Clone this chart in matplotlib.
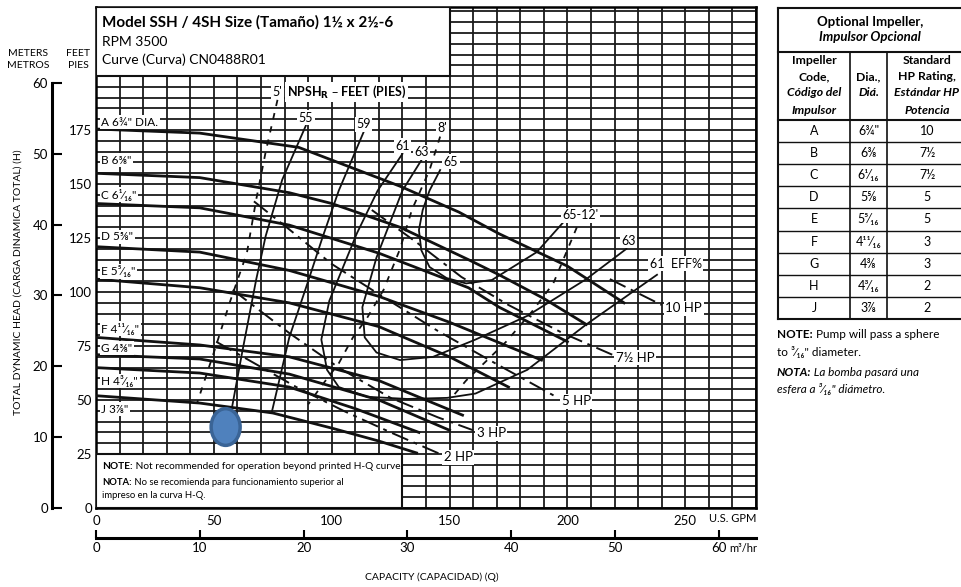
import numpy as np
import matplotlib
matplotlib.use("Agg")
import matplotlib.pyplot as plt
from matplotlib.patches import Rectangle, Ellipse

plt.rcParams['font.family'] = ['Lato', 'DejaVu Sans']

# --- impeller head curves, capacity in US GPM, total head in feet ---
head_a_q = [0, 44, 86, 129, 154, 171, 200, 224]
head_a_h = [175.5, 173.6, 167, 149, 137, 127, 112, 95]
head_b_q = [0, 44, 82, 100, 129, 158, 171, 190, 208]
head_b_h = [155, 153, 146, 141, 130, 115, 108, 97, 85]
head_c_q = [0, 44, 82, 120, 158, 171, 200]
head_c_h = [141, 139, 131, 118, 102, 93, 77]
head_d_q = [0, 44, 82, 120, 150, 189]
head_d_h = [121, 118.5, 110, 98, 86, 68.5]
head_e_q = [0, 44, 82, 120, 150, 175]
head_e_h = [106, 102, 95, 84, 70, 56]
head_f_q = [0, 44, 82, 120, 155.5]
head_f_h = [79, 75.5, 70, 59, 43]
head_g_q = [0, 44, 82, 120, 150]
head_g_h = [71, 69, 62, 50, 36]
head_h_q = [0, 44, 82, 110, 137]
head_h_h = [65, 62.5, 56, 46, 35]
head_j_q = [0, 44, 75, 100, 120, 136]
head_j_h = [52, 48.6, 44, 37, 31, 25.5]

# --- efficiency curves (%) ---
eff_55_q = [89, 79, 72, 68, 62, 57.6]
eff_55_h = [177, 152, 126, 106, 72, 46]
eff_59_q = [113.5, 103, 96, 90, 82, 74.5]
eff_59_h = [174, 147, 125, 105, 79, 44]
eff_61_q = [130, 119.5, 110.6, 99, 95.6, 98, 103, 115, 132, 149, 161, 183, 208, 238]
eff_61_h = [164, 147, 127, 96, 78, 64, 56, 51.5, 50.5, 51, 53, 64, 85, 108]
eff_63_q = [138, 130, 119, 113, 114, 119, 129, 143, 161, 183, 208, 225]
eff_63_h = [161, 147, 116, 93, 79, 72, 68.5, 70, 78, 89, 106, 120]
eff_65_q = [146, 141.5, 138.6, 137, 138, 141.5, 148.7, 157, 168, 187, 198]
eff_65_h = [156.5, 147, 138, 128.7, 119.4, 111.6, 106.5, 104, 105.6, 118.5, 132]

# --- NPSHr lines (feet) ---
npsh_5_q = [77, 72, 68, 64, 57, 50, 43]
npsh_5_h = [189, 165, 143, 118, 96, 72, 49]
npsh_8_q = [146, 141.5, 134, 129, 122, 115, 109, 103, 96, 90]
npsh_8_h = [172, 156.5, 138, 120, 101, 88, 79, 67, 57, 48]
npsh_12_q = [204, 194, 185, 174, 166, 157, 150]
npsh_12_h = [130, 104, 91, 77, 68.5, 59, 50]

# --- power lines (HP) ---
hp_10_q = [218, 240]
hp_10_h = [106, 94]
hp_75_q = [117, 136, 155, 175, 198, 219]
hp_75_h = [138, 123, 107, 94, 81, 71]
hp_5_q = [67, 82, 100, 120, 145, 171, 196]
hp_5_h = [142, 129, 113, 99, 82, 66, 51]
hp_3_q = [58, 82, 103, 125, 145, 160]
hp_3_h = [101, 81, 65, 51, 42, 36]
hp_2_q = [51, 64, 85, 105, 125, 146]
hp_2_h = [77, 69, 56, 45, 35, 25]

# marked operating point
op_q, op_h = 55, 37.5

# impeller table
imp_codes = ['A', 'B', 'C', 'D', 'E', 'F', 'G', 'H', 'J']
imp_dia = ['6¾', '6⅜', '6¹⁄₁₆', '5⅝', '5⁵⁄₁₆', '4¹¹⁄₁₆', '4⅜', '4³⁄₁₆', '3⅞']
imp_hp = ['10', '7½', '7½', '5', '5', '3', '3', '2', '2']

gpm_ticks = [0, 50, 100, 150, 200, 250]
ft_ticks = [0, 25, 50, 75, 100, 125, 150, 175]
m_ticks = [0, 10, 20, 30, 40, 50, 60]
m3h_ticks = [0, 10, 20, 30, 40, 50, 60]

W, H = 961, 587
INK = '#111111'


def box(x0, y0, x1, y1):
    return [x0 / W, 1 - y1 / H, (x1 - x0) / W, (y1 - y0) / H]


fig = plt.figure(figsize=(W / 100, H / 100), dpi=100)
ax = fig.add_axes(box(96, 7, 756, 508))
ax.set_xlim(0, 280)
ax.set_ylim(0, 232)
ax.set_xticks(gpm_ticks)
ax.set_xticks(np.arange(0, 281, 10), minor=True)
ax.set_yticks(ft_ticks)
ax.set_yticks(np.arange(0, 231, 5), minor=True)
ax.set_axisbelow(True)
ax.grid(which='both', color='#1a1a1a', lw=1.3)
ax.tick_params(which='both', length=0)
ax.tick_params(axis='x', pad=5, labelsize=9.5)
ax.tick_params(axis='y', pad=3, labelsize=9.5)
for s in ax.spines.values():
    s.set_linewidth(1.8)

lab = dict(fc='white', ec='none', boxstyle='square,pad=0.12')

# head curves
heads = [(head_a_q, head_a_h), (head_b_q, head_b_h), (head_c_q, head_c_h),
         (head_d_q, head_d_h), (head_e_q, head_e_h), (head_f_q, head_f_h),
         (head_g_q, head_g_h), (head_h_q, head_h_h), (head_j_q, head_j_h)]
label_ft = [178.7, 161, 145, 125.5, 109.7, 83, 74, 58.8, 45.8]
for (q, h), code, dia, ly in zip(heads, imp_codes, imp_dia, label_ft):
    ax.plot(q, h, color=INK, lw=2.0, zorder=3)
    txt = f'{code} {dia}"' + (' DIA.' if code == 'A' else '')
    ax.text(2.3, ly, txt, fontsize=8.5, va='center', ha='left', bbox=lab, zorder=6)

# efficiency curves
effs = [('55', eff_55_q, eff_55_h), ('59', eff_59_q, eff_59_h), ('61', eff_61_q, eff_61_h),
        ('63', eff_63_q, eff_63_h), ('65', eff_65_q, eff_65_h)]
for name, q, h in effs:
    ax.plot(q, h, color=INK, lw=1.3, zorder=3)
    ax.text(q[0] + (1.5 if name == '65' else 0), h[0] + 1, name, fontsize=9,
            ha='left' if name == '65' else 'center', va='bottom', bbox=lab, zorder=6)
ax.text(eff_61_q[-1] - 3, eff_61_h[-1] + 5, '61  EFF%', fontsize=9, ha='left', va='center',
        bbox=lab, zorder=6)
ax.text(eff_63_q[-1] + 1, eff_63_h[-1] + 1, '63', fontsize=9, ha='center', va='bottom',
        bbox=lab, zorder=6)
ax.text(eff_65_q[-1], eff_65_h[-1] + 3.5, "65-12'", fontsize=9, ha='left', va='center',
        bbox=lab, zorder=6)

# NPSH lines
for q, h in [(npsh_5_q, npsh_5_h), (npsh_8_q, npsh_8_h), (npsh_12_q, npsh_12_h)]:
    ax.plot(q, h, color=INK, lw=1.3, ls=(0, (3.5, 4)), zorder=3)
ax.text(npsh_5_q[0], npsh_5_h[0] + 1, "5'", fontsize=9, ha='center', va='bottom', bbox=lab, zorder=6)
ax.text(npsh_8_q[0] + 1, npsh_8_h[0] + 1, "8'", fontsize=9, ha='center', va='bottom', bbox=lab, zorder=6)
ax.text(npsh_5_q[0] + 4, npsh_5_h[0] + 3.6, r"NPSH$_\mathbf{R}$ – FEET (PIES)", fontsize=9,
        weight='bold', ha='left', va='center', bbox=lab, zorder=6)

# power lines
hps = [('10 HP', hp_10_q, hp_10_h), ('7½ HP', hp_75_q, hp_75_h), ('5 HP', hp_5_q, hp_5_h),
       ('3 HP', hp_3_q, hp_3_h), ('2 HP', hp_2_q, hp_2_h)]
for name, q, h in hps:
    ax.plot(q, h, color=INK, lw=1.4, ls=(0, (9, 3, 2, 3)), zorder=3)
    ax.text(q[-1] + 1.5, h[-1] - 1.5, name, fontsize=9.5, ha='left', va='center', bbox=lab, zorder=6)

# header and note boxes
ax.add_patch(Rectangle((0, 200), 150, 32, fc='white', ec=INK, lw=1.5, zorder=5))
ax.text(2.5, 225, 'Model SSH / 4SH Size (Tamaño) 1½ x 2½-6', fontsize=11, weight='bold',
        va='center', zorder=7)
ax.text(2.5, 216, 'RPM 3500', fontsize=10, va='center', zorder=7)
ax.text(2.5, 207.4, 'Curve (Curva) CN0488R01', fontsize=10, va='center', zorder=7)

ax.add_patch(Rectangle((0, 0), 130, 25, fc='white', ec=INK, lw=1.5, zorder=5))


def two_part(axis, x, y, first, rest, size, style='normal', z=7):
    t = axis.text(x, y, first, fontsize=size, weight='bold', style=style,
                  ha='left', va='center', zorder=z)
    axis.annotate(rest, xy=(1, 0), xycoords=t, ha='left', va='bottom', fontsize=size,
                  style=style, zorder=z)


two_part(ax, 2.5, 19, 'NOTE:', ' Not recommended for operation beyond printed H-Q curve.', 7.3)
two_part(ax, 2.5, 11.6, 'NOTA:', ' No se recomienda para funcionamiento superior al', 6.8)
ax.text(2.5, 5.6, 'impreso en la curva H-Q.', fontsize=6.8, va='center', zorder=7)

ax.add_patch(Ellipse((op_q, op_h), 12.3, 17, fc='#4F81BD', ec='#3A6496', lw=2.5, zorder=8))

# meters axis
axm = fig.add_axes(box(52, 7, 60, 508))
axm.set_ylim(0, 232 / 3.28084)
axm.patch.set_visible(False)
for k in ['top', 'right', 'bottom']:
    axm.spines[k].set_visible(False)
axm.spines['left'].set_bounds(0, 60)
axm.spines['left'].set_linewidth(2.2)
axm.set_xticks([])
axm.set_yticks(m_ticks)
axm.tick_params(axis='y', direction='in', length=7, width=1.5, labelsize=9.5, pad=3)

# m3/hr axis
axq = fig.add_axes(box(96, 530, 756, 538))
axq.set_xlim(0, 280 / 4.402868)
axq.patch.set_visible(False)
for k in ['top', 'right', 'left']:
    axq.spines[k].set_visible(False)
axq.spines['bottom'].set_linewidth(2.2)
axq.set_yticks([])
axq.set_xticks(m3h_ticks)
axq.tick_params(axis='x', direction='in', length=6, width=1.5, labelsize=9.5, pad=3)

# overlay in pixel units for the outer texts and the table
ov = fig.add_axes([0, 0, 1, 1])
ov.set_xlim(0, W)
ov.set_ylim(H, 0)
ov.axis('off')

ov.text(28, 53, 'METERS', fontsize=7.5, ha='center', va='center')
ov.text(28, 66, 'METROS', fontsize=7.5, ha='center', va='center')
ov.text(78, 53, 'FEET', fontsize=7.5, ha='center', va='center')
ov.text(78, 66, 'PIES', fontsize=7.5, ha='center', va='center')
ov.text(18, 282, 'TOTAL DYNAMIC HEAD (CARGA DINAMICA TOTAL) (H)', fontsize=7.5,
        rotation=90, ha='center', va='center')
ov.text(756, 519, 'U.S. GPM', fontsize=8, ha='right', va='center')
ov.text(757, 548, 'm³/hr', fontsize=8, ha='right', va='center')
ov.text(432, 577, 'CAPACITY (CAPACIDAD) (Q)', fontsize=7.5, ha='center', va='center')

# impeller table
tx0, tx1, tx2, tx3 = 778, 850, 887, 965
ty_top, ty_hdr, ty_col = 8, 52, 120
row_h = 22.1
ty_bot = ty_col + row_h * len(imp_codes)
ov.plot([tx0, tx3], [ty_top, ty_top], color=INK, lw=1.5)
ov.plot([tx0, tx0], [ty_top, ty_bot], color=INK, lw=1.5)
ov.plot([tx0, tx3], [ty_bot, ty_bot], color=INK, lw=1.5)
ov.plot([tx0, tx3], [ty_hdr, ty_hdr], color=INK, lw=1.5)
ov.plot([tx0, tx3], [ty_col, ty_col], color=INK, lw=1.5)
for xv in (tx1, tx2):
    ov.plot([xv, xv], [ty_hdr, ty_bot], color=INK, lw=1.2)
for i in range(1, len(imp_codes)):
    yv = ty_col + i * row_h
    ov.plot([tx0, tx3], [yv, yv], color=INK, lw=1.0)

ov.text(870, 22, 'Optional Impeller,', fontsize=9.5, weight='bold', ha='center', va='center')
ov.text(870, 37, 'Impulsor Opcional', fontsize=9.5, weight='bold', style='italic',
        ha='center', va='center')
c1, c2, c3 = (tx0 + tx1) / 2, (tx1 + tx2) / 2, 927
ov.text(c1, 61, 'Impeller', fontsize=8.8, weight='bold', ha='center', va='center')
ov.text(c1, 77, 'Code,', fontsize=8.8, weight='bold', ha='center', va='center')
ov.text(c1, 93, 'Código del', fontsize=8.8, weight='bold', style='italic', ha='center', va='center')
ov.text(c1, 110, 'Impulsor', fontsize=8.8, weight='bold', style='italic', ha='center', va='center')
ov.text(c2, 77, 'Dia.,', fontsize=8.8, weight='bold', ha='center', va='center')
ov.text(c2, 93, 'Diá.', fontsize=8.8, weight='bold', style='italic', ha='center', va='center')
ov.text(c3, 61, 'Standard', fontsize=8.8, weight='bold', ha='center', va='center')
ov.text(c3, 77, 'HP Rating,', fontsize=8.8, weight='bold', ha='center', va='center')
ov.text(c3, 93, 'Estándar HP', fontsize=8.8, weight='bold', style='italic', ha='center', va='center')
ov.text(c3, 110, 'Potencia', fontsize=8.8, weight='bold', style='italic', ha='center', va='center')
for i, (code, dia, hp) in enumerate(zip(imp_codes, imp_dia, imp_hp)):
    yc = ty_col + (i + 0.5) * row_h
    ov.text(c1, yc, code, fontsize=9, ha='center', va='center')
    ov.text(c2, yc, dia + ('"' if i == 0 else ''), fontsize=9, ha='center', va='center')
    ov.text(c3, yc, hp, fontsize=9, ha='center', va='center')

two_part(ov, 777, 335, 'NOTE:', ' Pump will pass a sphere', 8.5)
ov.text(777, 352, 'to ³⁄₁₆" diameter.', fontsize=8.5, ha='left', va='center')
two_part(ov, 777, 373, 'NOTA:', ' La bomba pasará una', 8.5, style='italic')
ov.text(777, 389, 'esfera a ³⁄₁₆" diámetro.', fontsize=8.5, style='italic', ha='left', va='center')

fig.savefig('out.png', dpi=100)
